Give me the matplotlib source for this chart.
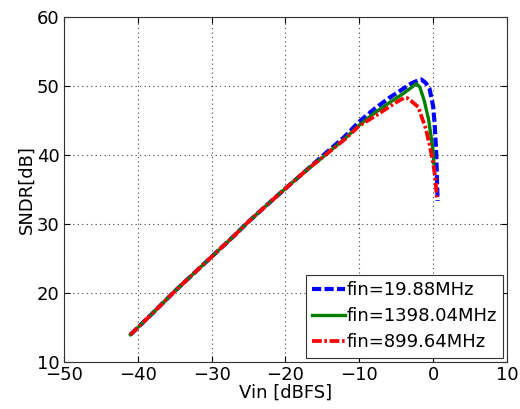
import matplotlib
matplotlib.use("Agg")
import matplotlib.pyplot as plt

plt.rcParams['font.family'] = ['DejaVu Sans']

# fin = 19.88 MHz
vin_a = [-41, -38, -35, -32, -30, -27, -25, -22, -20, -17, -15, -12, -10, -8, -6, -4, -3, -2, -1.6, -1.0, -0.5, 0.0, 0.2, 0.4, 0.6]
sndr_a = [13.9, 17.0, 20.2, 23.2, 25.2, 28.2, 30.3, 33.2, 35.1, 37.9, 39.8, 42.6, 44.8, 46.6, 48.2, 49.6, 50.3, 50.8, 50.9, 50.4, 49.6, 47.0, 44.5, 40.5, 33.3]
# fin = 1398.04 MHz
vin_b = [-41, -38, -35, -32, -30, -27, -25, -22, -20, -17, -15, -12, -10, -8, -6, -4, -3, -2.3, -1.8, -1.2, -0.6, 0.0, 0.1]
sndr_b = [13.9, 17.0, 20.2, 23.2, 25.2, 28.2, 30.3, 33.2, 35.1, 37.9, 39.6, 42.3, 44.3, 46.0, 47.5, 48.9, 49.7, 50.3, 49.8, 47.8, 45.0, 40.5, 38.7]
# fin = 899.64 MHz
vin_c = [-41, -38, -35, -32, -30, -27, -25, -22, -20, -17, -15, -12, -10, -8, -6, -5, -4, -3.5, -3, -2, -1.5, -1, -0.5, 0.0, 0.3, 0.5]
sndr_c = [13.9, 17.0, 20.2, 23.2, 25.2, 28.2, 30.3, 33.2, 35.1, 37.9, 39.6, 42.2, 44.2, 45.5, 46.9, 47.6, 48.2, 48.2, 47.8, 46.9, 45.3, 43.8, 41.5, 38.8, 36.5, 33.8]

labels = ['fin=19.88MHz', 'fin=1398.04MHz', 'fin=899.64MHz']

fig = plt.figure(figsize=(5.2, 4.09), dpi=100)
ax = fig.add_axes([0.123, 0.116, 0.852, 0.843])

ax.plot(vin_a, sndr_a, color='#0000ff', linestyle='--', linewidth=3, dashes=(2.2, 0.8), label=labels[0])
ax.plot(vin_b, sndr_b, color='#008000', linestyle='-', linewidth=2.4, label=labels[1])
ax.plot(vin_c, sndr_c, color='#ff0000', linestyle='-.', linewidth=2.7, dashes=(2.6, 0.7, 0.7, 0.7), label=labels[2])

ax.set_xlim(-50, 10)
ax.set_ylim(10, 60)
ax.set_xticks(range(-50, 11, 10))
ax.set_yticks(range(10, 61, 10))
ax.grid(True, linestyle=(0, (1, 3)), color='#444444', linewidth=0.8)
ax.tick_params(direction='in', top=True, right=True, labelsize=13, length=4, pad=3)
for s in ax.spines.values():
    s.set_linewidth(0.8)
    s.set_color('#333333')
ax.set_xlabel('Vin [dBFS]', fontsize=13, labelpad=0)
ax.set_ylabel('SNDR[dB]', fontsize=13, labelpad=1)

leg = ax.legend(loc='lower right', fontsize=13, handlelength=1.8, handletextpad=0.1,
                borderpad=0.35, labelspacing=0.45, fancybox=False, framealpha=1,
                edgecolor='#333333', borderaxespad=0.22)
leg.get_frame().set_linewidth(0.8)

fig.savefig('out.png', dpi=100)
